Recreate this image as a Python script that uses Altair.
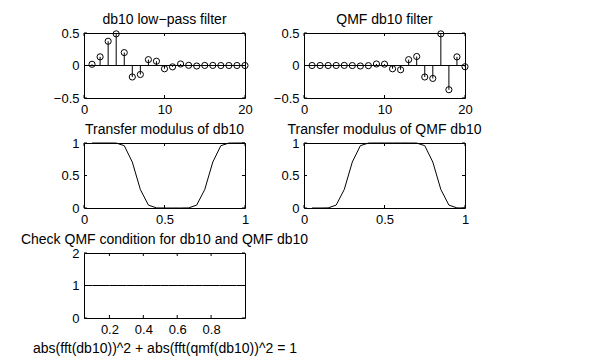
import altair as alt
import pandas as pd

# ---- data ----
n_idx = [1, 2, 3, 4, 5, 6, 7, 8, 9, 10, 11, 12, 13, 14, 15, 16, 17, 18, 19, 20]
db10 = [0.0189, 0.1331, 0.3728, 0.4868, 0.1988, -0.1767, -0.1386, 0.0901, 0.0658, -0.0505,
        -0.0208, 0.0235, 0.0026, -0.0076, 0.0010, 0.0014, -0.0005, -0.0001, 0.0001, -0.0000]
qmf_db10 = [-0.0000, -0.0001, -0.0001, 0.0005, 0.0014, -0.0010, -0.0076, -0.0026, 0.0235, 0.0208,
            -0.0505, -0.0658, 0.0901, 0.1386, -0.1767, -0.1988, 0.4868, -0.3728, 0.1331, -0.0189]
freq = [0.05, 0.10, 0.15, 0.20, 0.25, 0.30, 0.35, 0.40, 0.45, 0.50,
        0.55, 0.60, 0.65, 0.70, 0.75, 0.80, 0.85, 0.90, 0.95, 1.00]
mod_db10 = [1.0000, 1.0000, 1.0000, 0.9990, 0.9587, 0.7071, 0.2845, 0.0448, 0.0016, 0.0000,
            0.0000, 0.0000, 0.0016, 0.0448, 0.2845, 0.7071, 0.9587, 0.9990, 1.0000, 1.0000]
mod_qmf = [0.0000, 0.0000, 0.0016, 0.0448, 0.2845, 0.7071, 0.9587, 0.9990, 1.0000, 1.0000,
           1.0000, 1.0000, 1.0000, 0.9990, 0.9587, 0.7071, 0.2845, 0.0448, 0.0016, 0.0000]
qmf_check = [1.0, 1.0, 1.0, 1.0, 1.0, 1.0, 1.0, 1.0, 1.0, 1.0,
             1.0, 1.0, 1.0, 1.0, 1.0, 1.0, 1.0, 1.0, 1.0, 1.0]

stem_xdom = [0, 20]
stem_xticks = [0, 10, 20]
stem_ydom = [-0.5, 0.5]
stem_yticks = [-0.5, 0, 0.5]
mod_xdom = [0, 1]
mod_xticks = [0, 0.5, 1]
mod_ydom = [0, 1]
mod_yticks = [0, 0.5, 1]
chk_xdom = [0.05, 1]
chk_xticks = [0.2, 0.4, 0.6, 0.8]
chk_ydom = [0, 2]
chk_yticks = [0, 1, 2]

titles = ["db10 low\u2212pass filter", "QMF db10 filter",
          "Transfer modulus of db10", "Transfer modulus of QMF db10",
          "Check QMF condition for db10 and QMF db10"]
chk_xlabel = "abs(fft(db10))^2 + abs(fft(qmf(db10))^2 = 1"

# ---- styling ----
FONT = "Liberation Sans"
W, H = 161, 65
TL = 3  # inward tick length


def sc(dom):
    return alt.Scale(domain=dom, nice=False, zero=False)


def axis_x(vals, title=None):
    kw = dict(values=vals, tickSize=0, domain=False, grid=False, labelPadding=5,
              labelFlush=False, labelOverlap=False, labelFont=FONT, labelFontSize=13,
              labelColor="black", format="~g", title=title)
    if title is not None:
        kw.update(titleFont=FONT, titleFontSize=14, titleFontWeight="normal",
                  titleColor="black", titlePadding=5)
    return alt.Axis(**kw)


def axis_y(vals):
    return alt.Axis(values=vals, tickSize=0, domain=False, grid=False, labelPadding=5,
                    labelFlush=False, labelOverlap=False, labelFont=FONT, labelFontSize=13,
                    labelColor="black", format="~g", title=None)


def panel(main_layers, xdom, xt, ydom, yt, title, xtitle=None):
    X = lambda f: alt.X(f, scale=sc(xdom), axis=axis_x(xt, xtitle), title=xtitle)
    Y = lambda f: alt.Y(f, scale=sc(ydom), axis=axis_y(yt), title=None)
    layers = [m(X, Y) for m in main_layers]
    dx = pd.DataFrame({"tx": xt})
    dy = pd.DataFrame({"ty": yt})
    bx = alt.Chart(dx).mark_rule(color="black", strokeWidth=1)
    by = alt.Chart(dy).mark_rule(color="black", strokeWidth=1)
    layers += [
        bx.encode(x=X("tx:Q"), y=alt.value(H), y2=alt.value(H - TL)),
        bx.encode(x=X("tx:Q"), y=alt.value(0), y2=alt.value(TL)),
        by.encode(y=Y("ty:Q"), x=alt.value(0), x2=alt.value(TL)),
        by.encode(y=Y("ty:Q"), x=alt.value(W), x2=alt.value(W - TL)),
    ]
    return alt.layer(*layers).properties(
        width=W, height=H,
        title=alt.TitleParams(text=title, font=FONT, fontSize=14, fontWeight="normal",
                              color="black", offset=0, anchor="middle"))


def stem_layers(vals):
    df = pd.DataFrame({"n": n_idx, "v": vals})
    zdf = pd.DataFrame({"z": [0]})

    def zero(X, Y):
        return alt.Chart(zdf).mark_rule(color="black", strokeWidth=1).encode(y=Y("z:Q"))

    def stems(X, Y):
        return alt.Chart(df).mark_rule(color="black", strokeWidth=1).encode(
            x=X("n:Q"), y=Y("v:Q"), y2=alt.datum(0))

    def pts(X, Y):
        return alt.Chart(df).mark_point(shape="circle", filled=False, color="black",
                                        size=38, strokeWidth=1, opacity=1).encode(
            x=X("n:Q"), y=Y("v:Q"))
    return [zero, stems, pts]


def line_layers(xv, yv):
    df = pd.DataFrame({"f": xv, "m": yv})

    def line(X, Y):
        return alt.Chart(df).mark_line(color="black", strokeWidth=1).encode(
            x=X("f:Q"), y=Y("m:Q"))
    return [line]


p1 = panel(stem_layers(db10), stem_xdom, stem_xticks, stem_ydom, stem_yticks, titles[0])
p2 = panel(stem_layers(qmf_db10), stem_xdom, stem_xticks, stem_ydom, stem_yticks, titles[1])
p3 = panel(line_layers(freq, mod_db10), mod_xdom, mod_xticks, mod_ydom, mod_yticks, titles[2])
p4 = panel(line_layers(freq, mod_qmf), mod_xdom, mod_xticks, mod_ydom, mod_yticks, titles[3])
p5 = panel(line_layers(freq, qmf_check), chk_xdom, chk_xticks, chk_ydom, chk_yticks, titles[4],
           chk_xlabel)

chart = alt.concat(p1, p2, p3, p4, p5, columns=2,
                   spacing={"row": 45, "column": 59}, bounds="flush").properties(
    padding={"left": 12, "top": 4, "right": 5, "bottom": 5},
    background="white",
).configure_view(stroke="black", strokeWidth=1).configure_axis(
    labelFont=FONT, titleFont=FONT)

chart.save("out.html", embed_options={"renderer": "svg", "actions": False})
